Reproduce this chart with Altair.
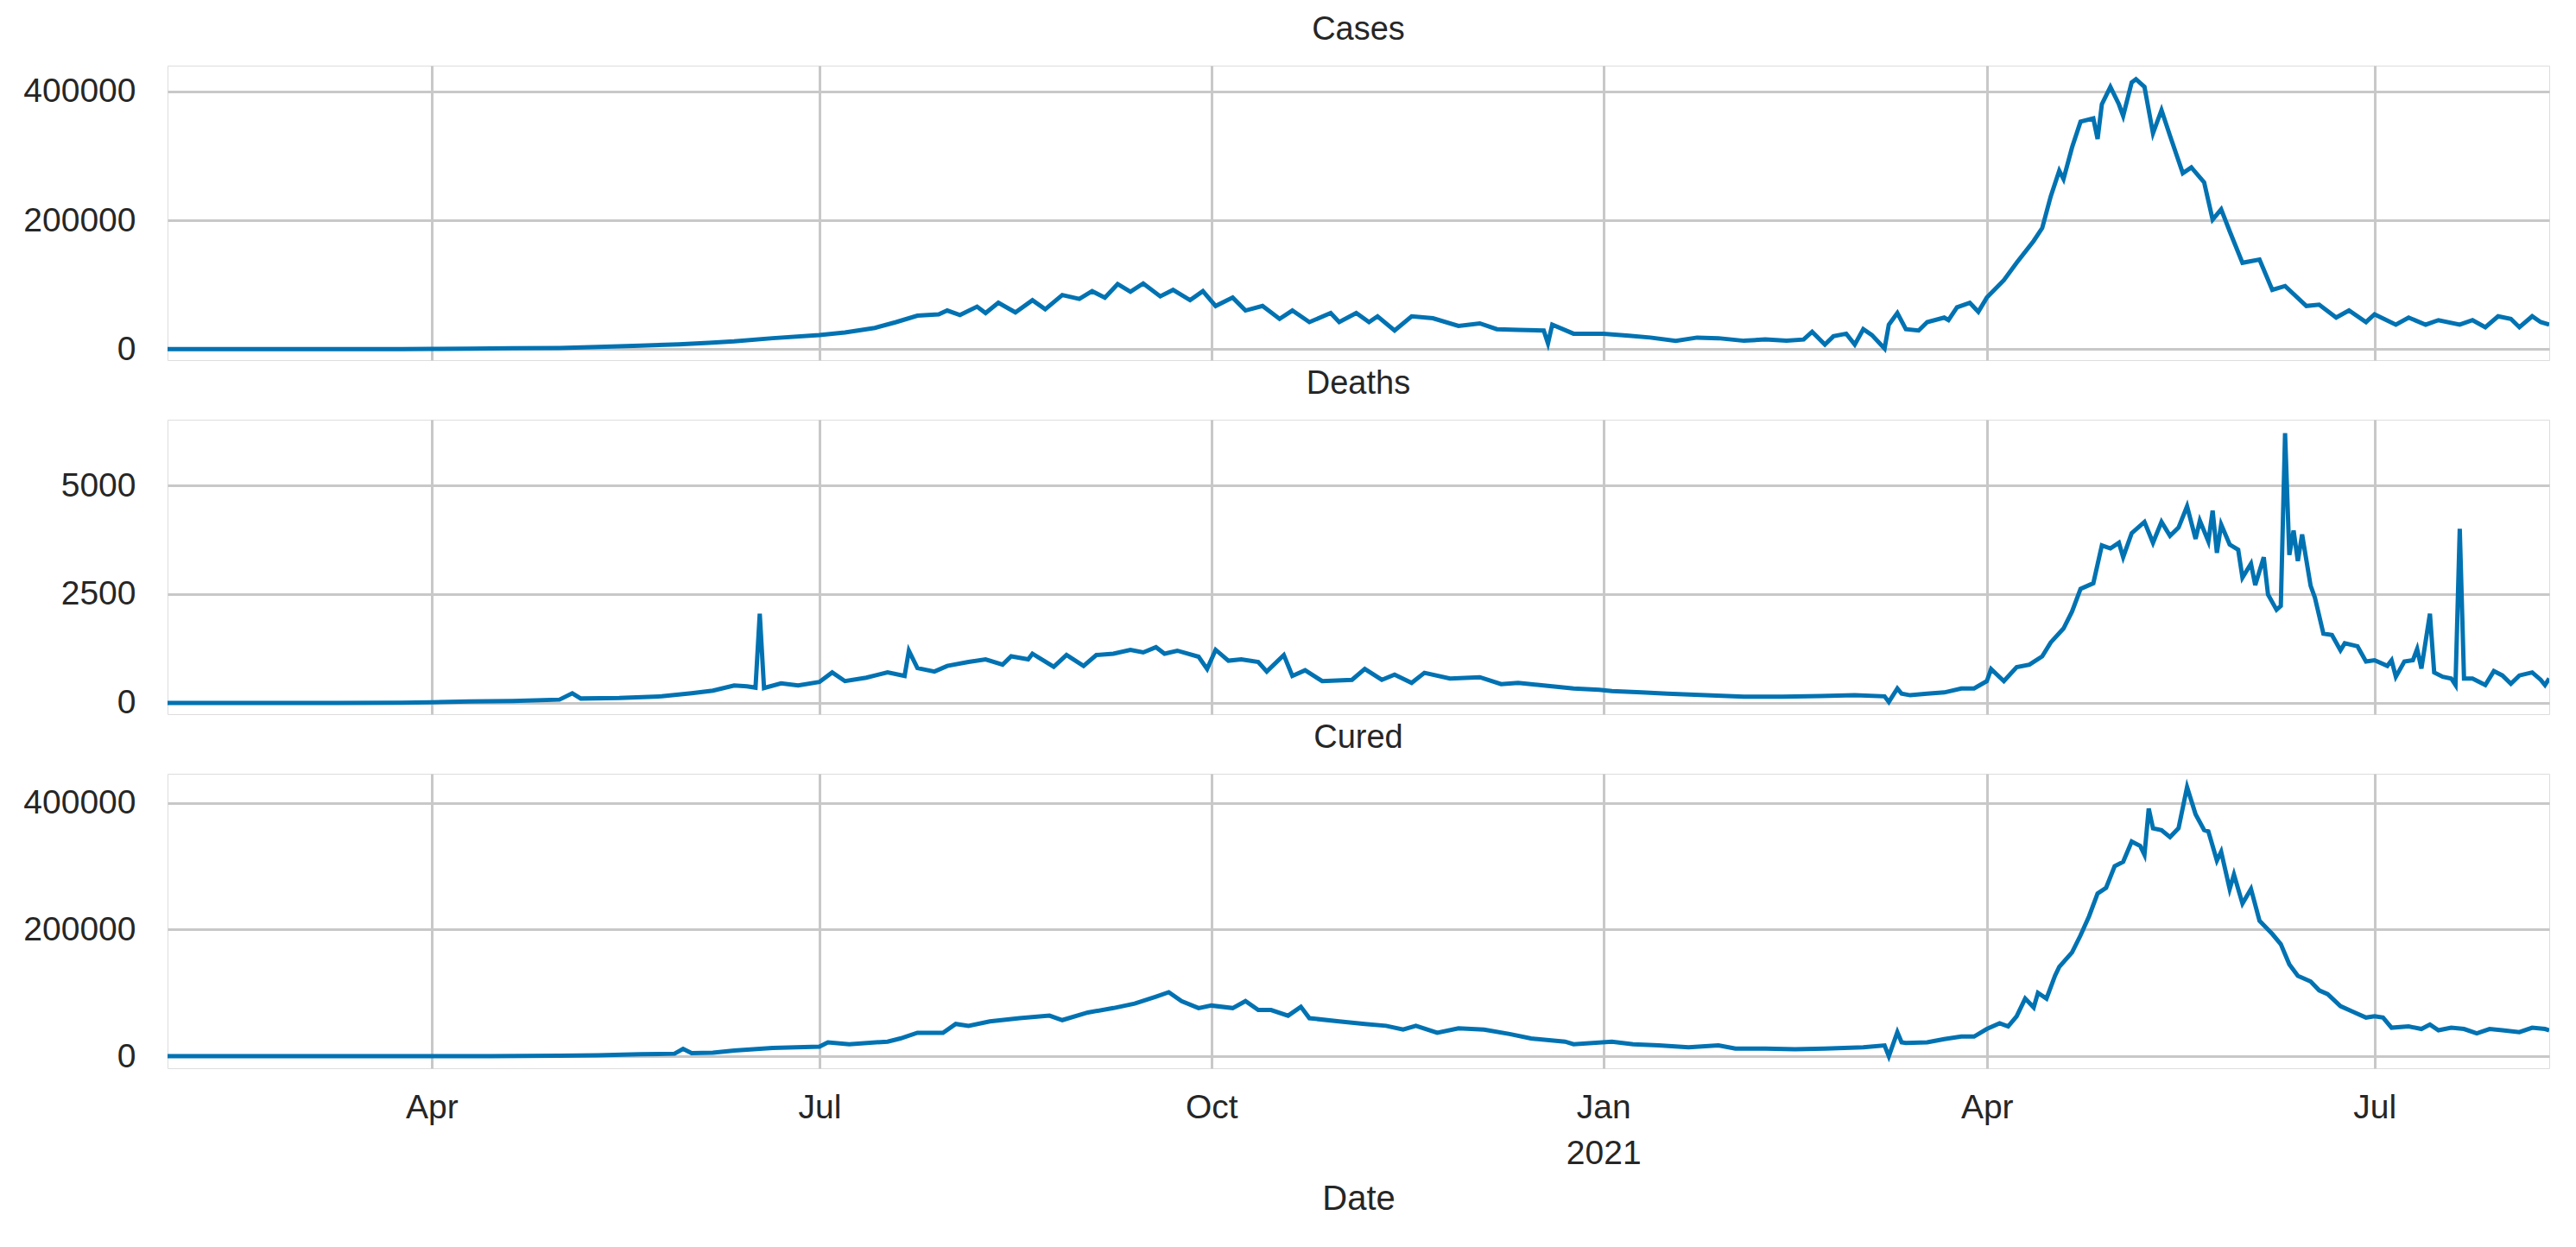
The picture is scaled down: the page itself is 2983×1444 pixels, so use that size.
import altair as alt
import pandas as pd

FONT = "Liberation Sans"
LINE_COLOR = "#0072B2"
TEXT_COLOR = "#262626"
GRID_COLOR = "#c8c8c8"

# ---------------- data ----------------
cases_dates = [
    "2020-01-30", "2020-02-15", "2020-03-01", "2020-03-15", "2020-03-25", "2020-04-01", "2020-04-10",
    "2020-04-20", "2020-05-01", "2020-05-10", "2020-05-20", "2020-05-29", "2020-06-05", "2020-06-11",
    "2020-06-20", "2020-07-01", "2020-07-07", "2020-07-14", "2020-07-19", "2020-07-24", "2020-07-29",
    "2020-07-31", "2020-08-03", "2020-08-07", "2020-08-09", "2020-08-12", "2020-08-16", "2020-08-20",
    "2020-08-23", "2020-08-27", "2020-08-31", "2020-09-03", "2020-09-06", "2020-09-09", "2020-09-12",
    "2020-09-15", "2020-09-19", "2020-09-22", "2020-09-26", "2020-09-29", "2020-10-02", "2020-10-06",
    "2020-10-09", "2020-10-13", "2020-10-17", "2020-10-20", "2020-10-24", "2020-10-29", "2020-10-31",
    "2020-11-04", "2020-11-07", "2020-11-09", "2020-11-13", "2020-11-17", "2020-11-22", "2020-11-28",
    "2020-12-03", "2020-12-07", "2020-12-12", "2020-12-18", "2020-12-19", "2020-12-20", "2020-12-25",
    "2021-01-01", "2021-01-07", "2021-01-12", "2021-01-18", "2021-01-23", "2021-01-28", "2021-02-03",
    "2021-02-08", "2021-02-13", "2021-02-17", "2021-02-19", "2021-02-22", "2021-02-24", "2021-02-27",
    "2021-03-01", "2021-03-03", "2021-03-05", "2021-03-08", "2021-03-09", "2021-03-11", "2021-03-13",
    "2021-03-16", "2021-03-18", "2021-03-22", "2021-03-23", "2021-03-25", "2021-03-28", "2021-03-30",
    "2021-04-01", "2021-04-05", "2021-04-08", "2021-04-12", "2021-04-14", "2021-04-16", "2021-04-18",
    "2021-04-19", "2021-04-21", "2021-04-23", "2021-04-26", "2021-04-27", "2021-04-28", "2021-04-30",
    "2021-05-02", "2021-05-03", "2021-05-05", "2021-05-06", "2021-05-08", "2021-05-10", "2021-05-12",
    "2021-05-14", "2021-05-17", "2021-05-19", "2021-05-22", "2021-05-24", "2021-05-26", "2021-05-28",
    "2021-05-31", "2021-06-04", "2021-06-07", "2021-06-10", "2021-06-15", "2021-06-18", "2021-06-22",
    "2021-06-25", "2021-06-29", "2021-07-01", "2021-07-06", "2021-07-09", "2021-07-13", "2021-07-16",
    "2021-07-21", "2021-07-24", "2021-07-27", "2021-07-30", "2021-08-02", "2021-08-04", "2021-08-07",
    "2021-08-09", "2021-08-11",
]
cases_vals = [
    1, 0, 0, 20, 90, 450, 900,
    1300, 1900, 3500, 5600, 7500, 9800, 12000,
    17000, 22000, 26000, 33000, 42000, 52000, 54000,
    60000, 53000, 66000, 56000, 72000, 57000, 76000,
    62000, 84000, 78000, 90000, 80000, 101000, 89000,
    102000, 82000, 92000, 76000, 90000, 67000, 80000,
    60000, 67000, 47000, 60000, 42000, 56000, 42000,
    56000, 42000, 51000, 29000, 51000, 48000, 36000,
    40000, 31000, 30000, 29000, 9000, 38000, 24000,
    24000, 21000, 18000, 13000, 18000, 17000, 13000,
    15000, 13000, 15000, 27000, 7000, 20000, 24000,
    7000, 31000, 22000, 1000, 38000, 56000, 31000,
    29000, 42000, 49000, 45000, 65000, 72000, 58000,
    80000, 107000, 134000, 168000, 188000, 237000, 277000,
    264000, 313000, 353000, 358000, 326000, 380000, 407000,
    380000, 362000, 414000, 419000, 407000, 335000, 371000,
    331000, 273000, 282000, 259000, 201000, 217000, 183000,
    134000, 139000, 92000, 98000, 67000, 69000, 49000,
    60000, 42000, 54000, 38000, 49000, 38000, 45000,
    38000, 45000, 34000, 51000, 47000, 34000, 51000,
    42000, 38000,
]

deaths_dates = [
    "2020-01-30", "2020-03-10", "2020-03-25", "2020-04-01", "2020-04-10", "2020-04-20", "2020-05-01",
    "2020-05-04", "2020-05-06", "2020-05-15", "2020-05-25", "2020-06-01", "2020-06-06", "2020-06-11",
    "2020-06-14", "2020-06-16", "2020-06-17", "2020-06-18", "2020-06-22", "2020-06-26", "2020-07-01",
    "2020-07-04", "2020-07-07", "2020-07-12", "2020-07-17", "2020-07-21", "2020-07-22", "2020-07-24",
    "2020-07-28", "2020-07-31", "2020-08-05", "2020-08-09", "2020-08-13", "2020-08-15", "2020-08-19",
    "2020-08-20", "2020-08-25", "2020-08-28", "2020-09-01", "2020-09-04", "2020-09-08", "2020-09-12",
    "2020-09-15", "2020-09-18", "2020-09-20", "2020-09-23", "2020-09-28", "2020-09-30", "2020-10-02",
    "2020-10-05", "2020-10-08", "2020-10-12", "2020-10-14", "2020-10-18", "2020-10-20", "2020-10-23",
    "2020-10-27", "2020-11-03", "2020-11-06", "2020-11-10", "2020-11-13", "2020-11-17", "2020-11-20",
    "2020-11-26", "2020-12-03", "2020-12-08", "2020-12-12", "2020-12-18", "2020-12-25", "2020-12-31",
    "2021-01-03", "2021-01-10", "2021-01-16", "2021-01-25", "2021-02-03", "2021-02-12", "2021-02-21",
    "2021-03-01", "2021-03-08", "2021-03-09", "2021-03-11", "2021-03-12", "2021-03-14", "2021-03-18",
    "2021-03-22", "2021-03-26", "2021-03-29", "2021-04-01", "2021-04-02", "2021-04-05", "2021-04-08",
    "2021-04-11", "2021-04-14", "2021-04-16", "2021-04-19", "2021-04-21", "2021-04-23", "2021-04-26",
    "2021-04-28", "2021-04-30", "2021-05-02", "2021-05-03", "2021-05-05", "2021-05-08", "2021-05-10",
    "2021-05-12", "2021-05-14", "2021-05-16", "2021-05-18", "2021-05-20", "2021-05-21", "2021-05-23",
    "2021-05-24", "2021-05-25", "2021-05-26", "2021-05-28", "2021-05-30", "2021-05-31", "2021-06-02",
    "2021-06-03", "2021-06-05", "2021-06-06", "2021-06-08", "2021-06-09", "2021-06-10", "2021-06-11",
    "2021-06-12", "2021-06-13", "2021-06-14", "2021-06-16", "2021-06-17", "2021-06-19", "2021-06-21",
    "2021-06-23", "2021-06-24", "2021-06-27", "2021-06-29", "2021-07-01", "2021-07-04", "2021-07-05",
    "2021-07-06", "2021-07-08", "2021-07-10", "2021-07-11", "2021-07-12", "2021-07-14", "2021-07-15",
    "2021-07-17", "2021-07-19", "2021-07-20", "2021-07-21", "2021-07-22", "2021-07-24", "2021-07-27",
    "2021-07-29", "2021-07-31", "2021-08-02", "2021-08-04", "2021-08-07", "2021-08-09", "2021-08-10",
    "2021-08-11",
]
deaths_vals = [
    0, 0, 5, 15, 35, 45, 75,
    220, 100, 110, 150, 220, 280, 400,
    380, 350, 2050, 340, 450, 400, 480,
    700, 500, 580, 700, 620, 1200, 800,
    720, 850, 940, 1000, 880, 1070, 1000,
    1130, 830, 1100, 850, 1100, 1130, 1220,
    1160, 1280, 1130, 1200, 1060, 780, 1220,
    970, 1000, 940, 720, 1100, 620, 750,
    500, 530, 780, 530, 650, 460, 690,
    560, 590, 430, 460, 400, 330, 300,
    270, 240, 210, 175, 140, 140, 155,
    175, 150, 20, 330, 210, 175, 210,
    240, 330, 330, 500, 780, 500, 820,
    880, 1070, 1390, 1710, 2100, 2620, 2750,
    3620, 3550, 3680, 3350, 3900, 4160, 3680,
    4160, 3840, 4030, 4520, 3770, 4190, 3710,
    4420, 3450, 4100, 3640, 3520, 2880, 3200,
    2710, 3350, 2490, 2140, 2230, 6200, 3400,
    3960, 3260, 3870, 2690, 2420, 1590, 1560,
    1210, 1370, 1300, 950, 980, 850, 980,
    600, 950, 980, 1240, 790, 2050, 700,
    600, 560, 410, 4000, 560, 560, 410,
    730, 630, 440, 630, 700, 530, 410,
    560,
]

cured_dates = [
    "2020-01-30", "2020-03-10", "2020-03-25", "2020-04-01", "2020-04-15", "2020-05-01", "2020-05-10",
    "2020-05-20", "2020-05-28", "2020-05-30", "2020-06-01", "2020-06-06", "2020-06-11", "2020-06-20",
    "2020-07-01", "2020-07-03", "2020-07-08", "2020-07-17", "2020-07-20", "2020-07-24", "2020-07-30",
    "2020-08-02", "2020-08-05", "2020-08-10", "2020-08-17", "2020-08-24", "2020-08-27", "2020-09-02",
    "2020-09-08", "2020-09-13", "2020-09-18", "2020-09-21", "2020-09-24", "2020-09-28", "2020-10-01",
    "2020-10-06", "2020-10-09", "2020-10-12", "2020-10-15", "2020-10-19", "2020-10-22", "2020-10-24",
    "2020-10-31", "2020-11-06", "2020-11-11", "2020-11-15", "2020-11-18", "2020-11-23", "2020-11-28",
    "2020-12-04", "2020-12-10", "2020-12-15", "2020-12-23", "2020-12-25", "2021-01-03", "2021-01-08",
    "2021-01-14", "2021-01-21", "2021-01-28", "2021-02-01", "2021-02-08", "2021-02-15", "2021-02-22",
    "2021-03-03", "2021-03-08", "2021-03-09", "2021-03-11", "2021-03-12", "2021-03-13", "2021-03-18",
    "2021-03-22", "2021-03-26", "2021-03-29", "2021-04-01", "2021-04-04", "2021-04-06", "2021-04-08",
    "2021-04-10", "2021-04-12", "2021-04-13", "2021-04-15", "2021-04-17", "2021-04-18", "2021-04-21",
    "2021-04-23", "2021-04-25", "2021-04-27", "2021-04-29", "2021-05-01", "2021-05-03", "2021-05-05",
    "2021-05-07", "2021-05-08", "2021-05-09", "2021-05-10", "2021-05-12", "2021-05-14", "2021-05-16",
    "2021-05-18", "2021-05-20", "2021-05-22", "2021-05-23", "2021-05-25", "2021-05-26", "2021-05-28",
    "2021-05-29", "2021-05-31", "2021-06-02", "2021-06-04", "2021-06-07", "2021-06-09", "2021-06-11",
    "2021-06-13", "2021-06-16", "2021-06-18", "2021-06-20", "2021-06-23", "2021-06-26", "2021-06-29",
    "2021-07-01", "2021-07-03", "2021-07-05", "2021-07-09", "2021-07-12", "2021-07-14", "2021-07-16",
    "2021-07-19", "2021-07-22", "2021-07-25", "2021-07-28", "2021-07-31", "2021-08-04", "2021-08-07",
    "2021-08-10", "2021-08-11",
]
cured_vals = [
    0, 0, 10, 50, 200, 700, 1500,
    3000, 4000, 11500, 4800, 5500, 9000, 13000,
    15000, 22000, 19000, 23000, 28000, 37000, 37000,
    51000, 48000, 55000, 60000, 64000, 57000, 69000,
    76000, 83000, 94000, 101000, 87000, 76000, 80000,
    76000, 87000, 73000, 73000, 64000, 78000, 60000,
    55000, 51000, 48000, 42000, 48000, 37000, 44000,
    42000, 35000, 28000, 23000, 19000, 23000, 19000,
    17000, 14000, 17000, 12000, 12000, 11000, 12000,
    14000, 17000, 0, 38000, 22000, 21000, 22000,
    27000, 31000, 31000, 43000, 52000, 47000, 63000,
    91000, 77000, 100000, 91000, 127000, 141000, 164000,
    191000, 221000, 257000, 266000, 300000, 307000, 339000,
    332000, 318000, 391000, 360000, 357000, 346000, 360000,
    425000, 382000, 357000, 355000, 309000, 323000, 264000,
    287000, 241000, 264000, 214000, 193000, 177000, 145000,
    127000, 118000, 104000, 98000, 79000, 70000, 61000,
    63000, 61000, 45000, 47000, 43000, 50000, 41000,
    45000, 43000, 36000, 43000, 41000, 38000, 45000,
    43000, 41000,
]

panel_titles = ["Cases", "Deaths", "Cured"]
y_domains = [[-17000, 440000], [-260, 6510], [-19000, 446000]]
y_ticks = [[0, 200000, 400000], [0, 2500, 5000], [0, 200000, 400000]]
x_tick_months = [(2020, 4), (2020, 7), (2020, 10), (2021, 1), (2021, 4), (2021, 7)]
x_start = (2020, 1, 30)
x_end = (2021, 8, 11)

# ---------------- chart ----------------
x_ticks = [alt.DateTime(year=y, month=m, date=1, utc=True) for y, m in x_tick_months]
x_domain = [
    alt.DateTime(year=x_start[0], month=x_start[1], date=x_start[2], utc=True),
    alt.DateTime(year=x_end[0], month=x_end[1], date=x_end[2], utc=True),
]
label_expr = (
    "utcFormat(datum.value, '%m') == '01' ? "
    "[utcFormat(datum.value, '%b'), utcFormat(datum.value, '%Y')] : utcFormat(datum.value, '%b')"
)


def panel(title, dates, vals, ydom, yticks, bottom):
    df = pd.DataFrame({"Date": dates, "Value": vals})
    xaxis = dict(
        values=x_ticks,
        grid=True,
        gridColor=GRID_COLOR,
        gridWidth=3,
        ticks=False,
        tickSize=0,
        domain=False,
        labels=bottom,
        labelExpr=label_expr,
        labelFont=FONT,
        labelFontSize=39,
        labelColor=TEXT_COLOR,
        labelPadding=26,
        labelLineHeight=53,
        labelFlush=False,
        titleFont=FONT,
        titleFontSize=40,
        titleFontWeight="normal",
        titleColor=TEXT_COLOR,
        titlePadding=13,
    )
    x_enc = alt.X(
        "Date:T",
        scale=alt.Scale(type="utc", domain=x_domain, nice=False),
        axis=alt.Axis(**xaxis),
        title="Date" if bottom else None,
    )
    y_enc = alt.Y(
        "Value:Q",
        scale=alt.Scale(domain=ydom, nice=False, zero=False),
        axis=alt.Axis(
            values=yticks,
            format="d",
            grid=True,
            gridColor=GRID_COLOR,
            gridWidth=3,
            ticks=False,
            tickSize=0,
            domain=False,
            labelFont=FONT,
            labelFontSize=39,
            labelColor=TEXT_COLOR,
            labelPadding=37,
            minExtent=180,
            maxExtent=180,
            labelFlush=False,
        ),
        title=None,
    )
    return (
        alt.Chart(df)
        .mark_line(color=LINE_COLOR, strokeWidth=5, clip=True)
        .encode(x=x_enc, y=y_enc)
        .properties(
            width=2758,
            height=341,
            title=alt.TitleParams(
                text=title,
                font=FONT,
                fontSize=38,
                fontWeight="normal",
                color=TEXT_COLOR,
                anchor="middle",
                offset=22,
            ),
        )
    )


series = [(cases_dates, cases_vals), (deaths_dates, deaths_vals), (cured_dates, cured_vals)]
panels = [
    panel(panel_titles[i], series[i][0], series[i][1], y_domains[i], y_ticks[i], i == 2)
    for i in range(3)
]

chart = (
    alt.vconcat(*panels, spacing=0)
    .properties(padding={"left": 5, "top": 7, "right": 5, "bottom": 5})
    .configure_view(stroke=GRID_COLOR, strokeWidth=3)
    .configure(background="white")
)

chart.save("out.html", embed_options={"renderer": "svg", "actions": False})
